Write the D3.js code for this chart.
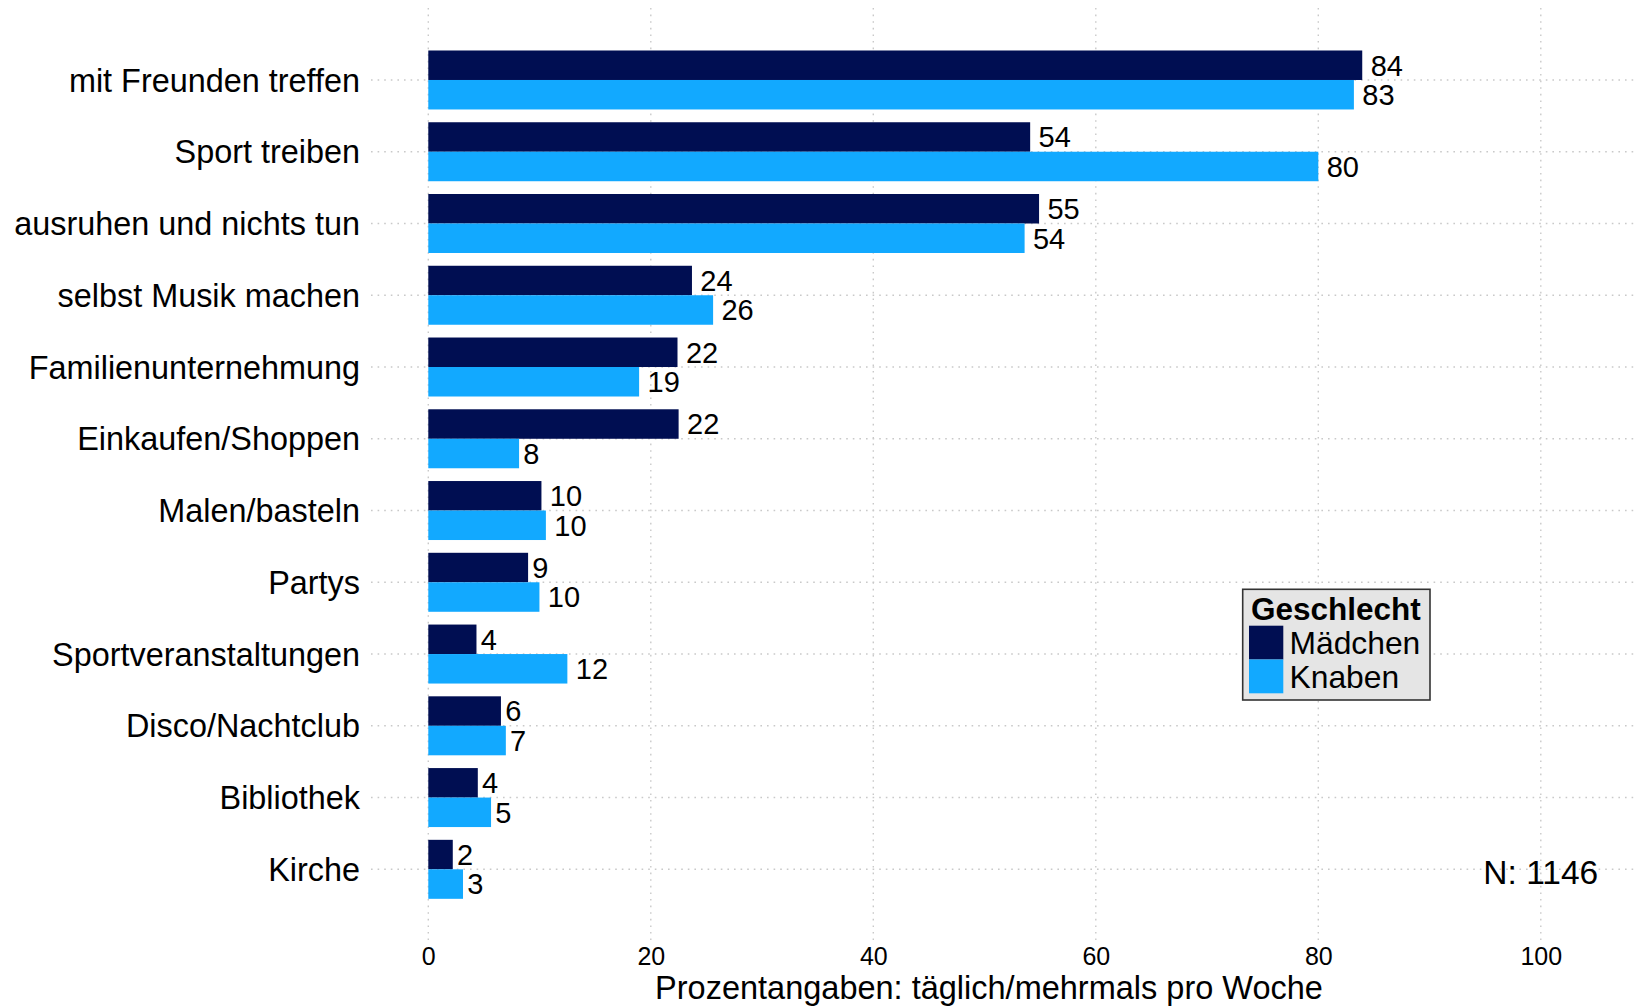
<!DOCTYPE html>
<html>
<head>
<meta charset="utf-8">
<script src="https://cdn.jsdelivr.net/npm/d3@7"></script>
<style>
  html, body { margin: 0; padding: 0; background: #ffffff; }
  svg { display: block; font-family: "Liberation Sans", Arial, sans-serif; }
</style>
</head>
<body>
<svg id="chart" width="1636" height="1008"></svg>
<script>
// ---- data ----
const categories = [
  "mit Freunden treffen", "Sport treiben", "ausruhen und nichts tun",
  "selbst Musik machen", "Familienunternehmung", "Einkaufen/Shoppen",
  "Malen/basteln", "Partys", "Sportveranstaltungen", "Disco/Nachtclub",
  "Bibliothek", "Kirche"
];
const seriesNames = ["Mädchen", "Knaben"];
const maedchen = [83.95, 54.1, 54.9, 23.7, 22.4, 22.5, 10.17, 8.97, 4.33, 6.53, 4.45, 2.2];
const knaben   = [83.2, 80.0, 53.6, 25.6, 18.95, 8.16, 10.57, 9.99, 12.5, 6.97, 5.64, 3.12];
const maedchenLabels = ["84", "54", "55", "24", "22", "22", "10", "9", "4", "6", "4", "2"];
const knabenLabels   = ["83", "80", "54", "26", "19", "8", "10", "10", "12", "7", "5", "3"];
const xTicks = [0, 20, 40, 60, 80, 100];
const legendTitle = "Geschlecht";
const xTitle = "Prozentangaben: täglich/mehrmals pro Woche";
const noteText = "N: 1146";

// ---- layout ----
const colors = { "Mädchen": "#000E52", "Knaben": "#12A9FF" };
const svg = d3.select("#chart");
const panel = { left: 371, right: 1636, top: 8, bottom: 940 };

const x = d3.scaleLinear().domain([0, 100]).range([428.3, 1540.8]);
const y = d3.scaleBand().domain(categories).range([44.1, 905.2])
  .paddingInner(0.178).paddingOuter(0.089);
const ySub = d3.scaleBand().domain(seriesNames).range([0, y.bandwidth()]);

const rows = categories.map((c, i) => ({
  cat: c,
  vals: [
    { s: "Mädchen", v: maedchen[i], lab: maedchenLabels[i] },
    { s: "Knaben", v: knaben[i], lab: knabenLabels[i] }
  ]
}));

// ---- grid ----
const grid = svg.append("g").attr("stroke", "#c9c9c9").attr("stroke-width", 1.4)
  .attr("stroke-dasharray", "1.6,5");
grid.selectAll("line.v").data(xTicks).join("line")
  .attr("x1", d => x(d)).attr("x2", d => x(d))
  .attr("y1", panel.top).attr("y2", panel.bottom);
grid.selectAll("line.h").data(categories).join("line")
  .attr("x1", panel.left).attr("x2", panel.right)
  .attr("y1", d => y(d) + y.bandwidth() / 2).attr("y2", d => y(d) + y.bandwidth() / 2);

// ---- bars ----
const groups = svg.append("g").selectAll("g").data(rows).join("g")
  .attr("transform", d => `translate(0,${y(d.cat)})`);
groups.selectAll("rect").data(d => d.vals).join("rect")
  .attr("x", x(0))
  .attr("y", d => ySub(d.s))
  .attr("width", d => x(d.v) - x(0))
  .attr("height", ySub.bandwidth())
  .attr("fill", d => colors[d.s]);

// ---- value labels ----
groups.selectAll("text").data(d => d.vals).join("text")
  .attr("font-size", 29)
  .attr("fill", "#000")
  .attr("y", d => ySub(d.s) + ySub.bandwidth() / 2 + 10.3)
  .text(d => d.lab)
  .each(function (d) {
    const w = this.getComputedTextLength();
    d3.select(this).attr("x", x(d.v) + 0.26 * w);
  });

// ---- y axis labels ----
const yAxis = d3.axisLeft(y).tickSize(0).tickPadding(0);
const yg = svg.append("g").attr("transform", "translate(360,0)").call(yAxis);
yg.select(".domain").remove();
yg.selectAll("text").attr("font-size", 32.4).attr("fill", "#000")
  .attr("font-family", "\"Liberation Sans\", Arial, sans-serif")
  .attr("dy", "0.36em").attr("x", 0);

// ---- x axis labels ----
const xAxis = d3.axisBottom(x).tickValues(xTicks).tickSize(0).tickPadding(0);
const xg = svg.append("g").attr("transform", "translate(0,965)").call(xAxis);
xg.select(".domain").remove();
xg.selectAll("text").attr("font-size", 25).attr("fill", "#000")
  .attr("font-family", "\"Liberation Sans\", Arial, sans-serif")
  .attr("dy", 0).attr("y", 0);

// ---- x title ----
svg.append("text").attr("x", 989).attr("y", 998.5).attr("text-anchor", "middle")
  .attr("font-size", 32.5).attr("fill", "#000").text(xTitle);

// ---- N annotation ----
svg.append("text").attr("x", x(100)).attr("y", 883.5).attr("text-anchor", "middle")
  .attr("font-size", 33.5).attr("fill", "#000").text(noteText);

// ---- legend ----
const lg = svg.append("g");
lg.append("rect").attr("x", 1242.7).attr("y", 589.3).attr("width", 187.3).attr("height", 110.7)
  .attr("fill", "#e5e5e5").attr("stroke", "#333").attr("stroke-width", 1.6);
lg.append("text").attr("x", 1251).attr("y", 620).attr("font-size", 31.5)
  .attr("font-weight", "bold").attr("fill", "#000").text(legendTitle);
const items = lg.selectAll("g.item").data(seriesNames).join("g")
  .attr("transform", (d, i) => `translate(1249,${625.7 + i * 33.8})`);
items.append("rect").attr("width", 34.3).attr("height", 33.8).attr("fill", d => colors[d]);
items.append("text").attr("x", 40.5).attr("y", 28).attr("font-size", 31.8)
  .attr("fill", "#000").text(d => d);
</script>
</body>
</html>
